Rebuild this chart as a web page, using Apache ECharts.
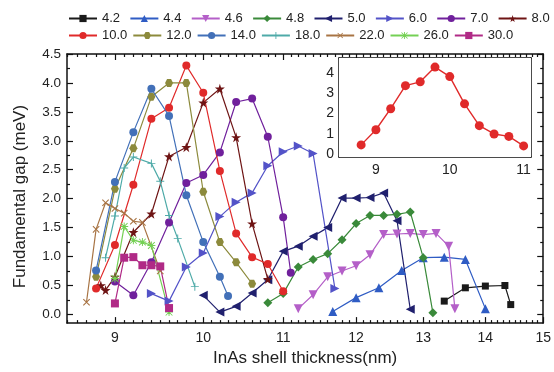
<!DOCTYPE html>
<html><head><meta charset="utf-8">
<script src="https://cdn.jsdelivr.net/npm/echarts@6/dist/echarts.min.js"></script>
<style>html,body{margin:0;padding:0;background:#fff}#c{width:554px;height:372px}</style>
</head><body><div id="c"></div>
<script>
// ---- data (x = InAs shell thickness nm, y = fundamental gap meV) ----
const names = ['4.2','4.4','4.6','4.8','5.0','6.0','7.0','8.0','10.0','12.0','14.0','18.0','22.0','26.0','30.0'];
const x42 = [13.33,13.67,14.0,14.33,14.43];
const g42 = [0.23,0.46,0.49,0.50,0.17];
const x44 = [11.67,12.0,12.33,12.67,13.0,13.33,13.67,14.0];
const g44 = [0.05,0.29,0.46,0.76,0.98,0.99,0.95,0.10];
const x46 = [11.2,11.4,11.6,11.8,12.0,12.2,12.4,12.6,12.8,13.0,13.2,13.4,13.5];
const g46 = [0.10,0.34,0.65,0.75,0.84,1.03,1.38,1.39,1.40,1.38,1.40,1.18,0.10];
const x48 = [10.8,11.0,11.2,11.4,11.6,11.8,12.0,12.2,12.4,12.6,12.8,13.0,13.15];
const g48 = [0.20,0.36,0.82,0.95,1.05,1.29,1.57,1.71,1.71,1.73,1.77,0.98,0.03];
const x50 = [10.0,10.2,10.4,10.6,10.8,11.0,11.2,11.4,11.6,11.8,12.0,12.2,12.4,12.6,12.8];
const g50 = [0.33,0.04,0.14,0.37,0.60,1.09,1.18,1.35,1.50,2.01,2.01,2.02,2.10,1.62,0.09];
const x60 = [9.4,9.6,9.8,10.0,10.2,10.4,10.6,10.8,11.0,11.2,11.4,11.7];
const g60 = [0.36,0.23,0.82,1.06,1.69,1.94,2.10,2.57,2.81,2.91,2.78,0.45];
const x70 = [9.0,9.2,9.4,9.6,9.8,10.0,10.2,10.4,10.6,10.8,11.0,11.1];
const g70 = [0.57,0.33,0.90,1.59,2.27,2.41,2.80,3.67,3.73,3.07,1.68,0.72];
const x80 = [8.85,8.9,9.0,9.2,9.4,9.6,9.8,10.0,10.2,10.4,10.6,10.8];
const g80 = [0.50,0.42,0.65,1.42,1.74,2.73,2.89,3.66,3.90,3.06,1.57,0.61];
const x100 = [8.8,9.0,9.2,9.4,9.6,9.8,10.0,10.2,10.4,10.6,10.8,11.0];
const g100 = [0.45,1.20,2.24,3.38,3.57,4.30,3.83,2.48,1.40,0.99,0.87,0.40];
const x120 = [8.8,9.0,9.2,9.4,9.6,9.8,10.0,10.2,10.4,10.6];
const g120 = [0.65,2.17,2.87,3.76,4.00,4.00,2.12,1.25,0.90,0.53];
const x140 = [8.8,9.0,9.2,9.4,9.6,9.8,10.0,10.2,10.3];
const g140 = [0.76,2.29,3.15,3.90,3.43,2.06,1.25,0.65,0.32];
const x180 = [8.9,9.0,9.1,9.2,9.4,9.5,9.6,9.7,9.9];
const g180 = [0.98,1.70,2.53,2.72,2.61,2.30,1.71,1.31,0.48];
const x220 = [8.7,8.8,8.9,9.0,9.1,9.2,9.3,9.5];
const g220 = [0.21,1.47,1.93,1.83,1.75,1.61,1.59,0.75];
const x260 = [9.0,9.1,9.2,9.3,9.4,9.6];
const g260 = [0.62,1.52,1.28,1.25,1.19,0.04];
const x300 = [9.0,9.1,9.2,9.3,9.4,9.5,9.6];
const g300 = [0.19,0.98,0.99,0.85,0.85,0.83,0.11];
// tick labels
const xMain = [9,10,11,12,13,14,15];
const yMain = [0,0.5,1,1.5,2,2.5,3,3.5,4,4.5];
const xInset = [9,10,11];
const yInset = [0,1,2,3,4];

// ---- styling ----
const F = 'Liberation Sans, Arial, sans-serif';
const TXT = '#222';
const P = {
  star:'path://M50,0L61,35L98,35L68,57L79,91L50,70L21,91L32,57L2,35L39,35Z',
  plus:'path://M44,0H56V44H100V56H56V100H44V56H0V44H44Z',
  aster:'path://M44,0H56V44H100V56H56V100H44V56H0V44H44Z M12,4L96,88L88,96L4,12Z M88,4L96,12L12,96L4,88Z',
  hex:'path://M25,0L75,0L100,50L75,100L25,100L0,50Z'
};
const style = {
  '4.2':['#1a1a1a','rect',7,0],
  '4.4':['#2f5cc4','triangle',9,0],
  '4.6':['#b45fc8','triangle',9,180],
  '4.8':['#3a8a3a','diamond',9,0],
  '5.0':['#20206e','triangle',9,90],
  '6.0':['#5353c8','triangle',9,-90],
  '7.0':['#70209c','circle',8,0],
  '8.0':['#6e1414',P.star,10,0],
  '10.0':['#e02a2a','circle',8,0],
  '12.0':['#8c8a3c',P.hex,8,0],
  '14.0':['#4270b8','circle',8,0],
  '18.0':['#4eaaa8',P.plus,8,0],
  '22.0':['#a87444',P.plus,9,45],
  '26.0':['#74d054',P.aster,8,0],
  '30.0':['#b02a86','rect',8,0]
};
const dataX = [x42,x44,x46,x48,x50,x60,x70,x80,x100,x120,x140,x180,x220,x260,x300];
const dataY = [g42,g44,g46,g48,g50,g60,g70,g80,g100,g120,g140,g180,g220,g260,g300];

const series = names.map((n,i)=>{
  const s = style[n];
  return {
    type:'line', name:n, xAxisIndex:0, yAxisIndex:0,
    data: dataX[i].map((x,j)=>[x, dataY[i][j]]),
    symbol:s[1], symbolSize:s[2], symbolRotate:s[3],
    lineStyle:{color:s[0], width:1.2}, itemStyle:{color:s[0]},
    z: 2, animation:false
  };
});
series.push({
  type:'line', name:'inset', xAxisIndex:4, yAxisIndex:4,
  data: x100.map((x,j)=>[x, g100[j]]),
  symbol:'circle', symbolSize:9, z:10,
  lineStyle:{color:'#e02a2a', width:1.4}, itemStyle:{color:'#e02a2a'}, animation:false
});

// tick positions
const xMinor = []; for (let i=85;i<=150;i++){ if(i%10) xMinor.push(i/10); }
const yMinor = []; for (let i=1;i<=17;i+=2){ yMinor.push(i*0.25); }
const yInsetTicks = []; for (let i=0;i<=9;i++){ yInsetTicks.push(i*0.5); }

const line = {show:true, onZero:false, lineStyle:{color:'#111', width:1.5}};
const noLine = {show:false, onZero:false};
function xa(opt){ return Object.assign({type:'log', logBase:10, min:8.5, max:15, gridIndex:0, splitLine:{show:false}, axisLabel:{show:false}}, opt); }
function ya(opt){ return Object.assign({type:'value', min:-0.15, max:4.5, gridIndex:0, splitLine:{show:false}, axisLabel:{show:false}}, opt); }
const tk = (vals,len)=>({show:true, inside:true, length:len, customValues:vals, lineStyle:{color:'#111', width:1.2}});
const legText = {fontFamily:F, fontSize:13, color:TXT};

const option = {
  backgroundColor:'#fff',
  textStyle:{fontFamily:F},
  grid:[
    {left:67, top:54, width:478, height:270, show:false},
    {left:339, top:58, width:192, height:99, show:true, backgroundColor:'#fff', borderWidth:0, z:1}
  ],
  legend:[
    {data:names.slice(0,8), left:63, top:7, width:530, itemWidth:28, itemHeight:9, itemGap:9.3, textStyle:legText},
    {data:names.slice(8), left:63, top:24, width:530, itemWidth:28, itemHeight:9, itemGap:5, textStyle:legText}
  ],
  xAxis:[
    xa({position:'bottom', axisLine:line, axisTick:tk(xMinor,3)}),
    xa({position:'bottom', axisLine:noLine, axisTick:tk(xMain,6),
        axisLabel:{show:true, customValues:xMain, margin:8, fontSize:14, color:TXT, fontFamily:F, formatter:v=>String(Math.round(v))},
        name:'InAs shell thickness(nm)', nameLocation:'middle', nameGap:23,
        nameTextStyle:{fontSize:17, color:TXT, fontFamily:F}}),
    xa({position:'top', axisLine:line, axisTick:tk(xMinor,3)}),
    xa({position:'top', axisLine:noLine, axisTick:tk(xMain,6)}),
    {type:'value', gridIndex:1, min:8.5, max:11.1, position:'bottom', splitLine:{show:false},
     axisLine:line, axisTick:tk([9,9.5,10,10.5,11],4),
     axisLabel:{show:true, customValues:xInset, margin:6, fontSize:14, color:TXT, fontFamily:F}},
    {type:'value', gridIndex:1, min:8.5, max:11.1, position:'top', splitLine:{show:false},
     axisLine:line, axisTick:{show:false}, axisLabel:{show:false}}
  ],
  yAxis:[
    ya({position:'left', axisLine:line, axisTick:tk(yMinor,3)}),
    ya({position:'left', axisLine:noLine, axisTick:tk(yMain,6),
        axisLabel:{show:true, customValues:yMain, margin:6, fontSize:13.5, color:TXT, fontFamily:F, formatter:v=>v.toFixed(1)},
        name:'Fundamental gap (meV)', nameLocation:'middle', nameGap:38,
        nameTextStyle:{fontSize:17, color:TXT, fontFamily:F, padding:[0,16,0,0]}}),
    ya({position:'right', axisLine:line, axisTick:tk(yMinor,3)}),
    ya({position:'right', axisLine:noLine, axisTick:tk(yMain,6)}),
    {type:'value', gridIndex:1, min:-0.15, max:4.75, position:'left', splitLine:{show:false},
     axisLine:line, axisTick:tk(yInsetTicks,4),
     axisLabel:{show:true, customValues:yInset, margin:5, fontSize:14, color:TXT, fontFamily:F}},
    {type:'value', gridIndex:1, min:-0.15, max:4.75, position:'right', splitLine:{show:false},
     axisLine:line, axisTick:{show:false}, axisLabel:{show:false}}
  ],
  series:series
};
const chart = echarts.init(document.getElementById('c'), null, {renderer:'canvas'});
chart.setOption(option);
</script></body></html>
